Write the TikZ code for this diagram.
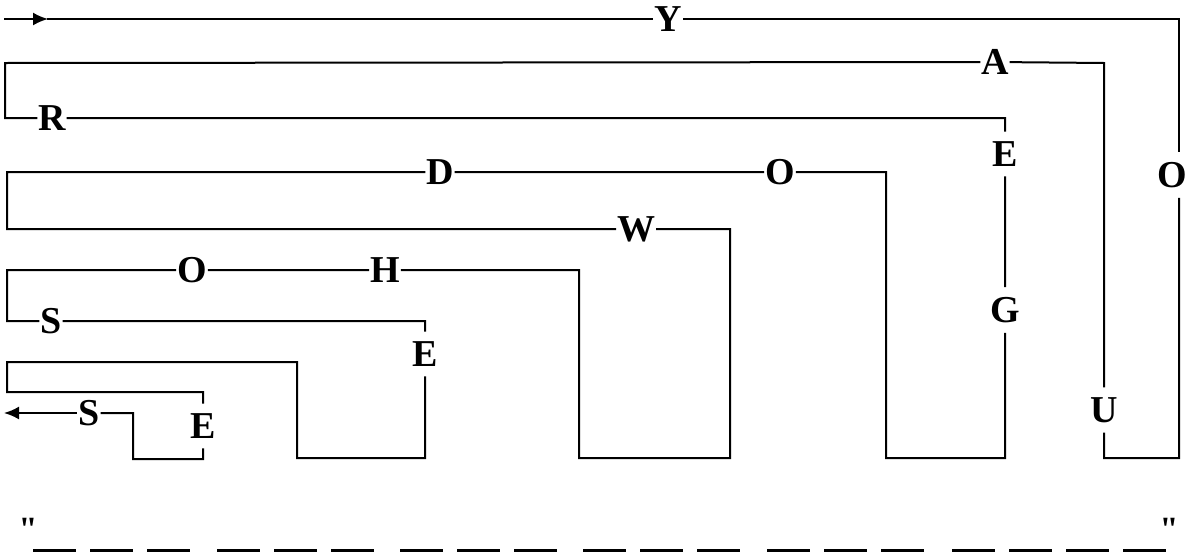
\documentclass[tikz,border=0pt]{standalone}
\usepackage{fontspec}
\setmainfont{Liberation Serif}
\newfontfamily\quotefont{Liberation Serif}[Ligatures=ResetAll]
\usetikzlibrary{arrows.meta}

\begin{document}
\begin{tikzpicture}[x=1pt, y=-1pt, line width=2pt, line cap=rect,
    every node/.style={font=\fontsize{38}{38}\selectfont\bfseries, inner xsep=1pt, inner ysep=10pt},
    tip/.style={-{Latex[length=15pt,width=13pt]}},
    quote/.style={font=\fontsize{34}{34}\selectfont\quotefont\bfseries, inner sep=0pt}]
  \useasboundingbox (0,0) rectangle (1187,552);

  % letters along the maze
  \node (Y)  at (668,19)   {Y};
  \node (O1) at (1172,175) {O};
  \node (U)  at (1104,410) {U};
  \node (A)  at (995,62)   {A};
  \node (R)  at (52,118)   {R};
  \node (E1) at (1005,154) {E};
  \node (G)  at (1005,310) {G};
  \node (O2) at (780,172)  {O};
  \node (D)  at (440,172)  {D};
  \node (W)  at (636,229)  {W};
  \node (H)  at (385,270)  {H};
  \node (O3) at (192,270)  {O};
  \node (S1) at (51,321)   {S};
  \node (E2) at (425,354)  {E};
  \node (E3) at (203,426)  {E};
  \node (S2) at (89,413)   {S};

  % corners
  \coordinate (in)  at (5,19);
  \coordinate (inm) at (48,19);
  \coordinate (c1)  at (1179,19);
  \coordinate (c2)  at (1179,458);
  \coordinate (c3)  at (1104,458);
  \coordinate (c4)  at (1104,63);
  \coordinate (c5)  at (5,63);
  \coordinate (c6)  at (5,118);
  \coordinate (c7)  at (1005,118);
  \coordinate (c8)  at (1005,458);
  \coordinate (c9)  at (886,458);
  \coordinate (c10) at (886,172);
  \coordinate (c11) at (7,172);
  \coordinate (c12) at (7,229);
  \coordinate (c13) at (730,229);
  \coordinate (c14) at (730,458);
  \coordinate (c15) at (579,458);
  \coordinate (c16) at (579,270);
  \coordinate (c17) at (7,270);
  \coordinate (c18) at (7,321);
  \coordinate (c19) at (425,321);
  \coordinate (c20) at (425,458);
  \coordinate (c21) at (297,458);
  \coordinate (c22) at (297,362);
  \coordinate (c23) at (7,362);
  \coordinate (c24) at (7,392);
  \coordinate (c25) at (203,392);
  \coordinate (c26) at (203,459);
  \coordinate (c27) at (133,459);
  \coordinate (c28) at (133,413);
  \coordinate (out) at (4,413);

  % the route
  \draw[tip] (in) -- (inm);
  \draw (inm) -- (Y) -- (c1) -- (O1.north -| c1);
  \draw (O1.south -| c1) -- (c2) -- (c3) -- (U) -- (c4) -- (A) -- (c5) -- (c6) -- (R) -- (c7) -- (E1) -- (G) -- (c8) -- (c9) -- (c10) -- (O2) -- (D) -- (c11) -- (c12) -- (W) -- (c13) -- (c14) -- (c15) -- (c16) -- (H) -- (O3) -- (c17) -- (c18) -- (S1) -- (c19) -- (E2) -- (c20) -- (c21) -- (c22) -- (c23) -- (c24) -- (c25) -- (E3) -- (c26) -- (c27) -- (c28) -- (S2);
  \draw[tip] (S2) -- (out);

  % answer blanks
  \node[quote] (q1) at (28,529)   {"};
  \node[quote] (q2) at (1169,529) {"};
  \foreach \g/\n in {33/3,217/3,400/3,583/3,767/3,952/4}
    \foreach \k in {1,...,\n}
      \fill (\g+57*\k-57,549) rectangle +(43,3);
\end{tikzpicture}
\end{document}
